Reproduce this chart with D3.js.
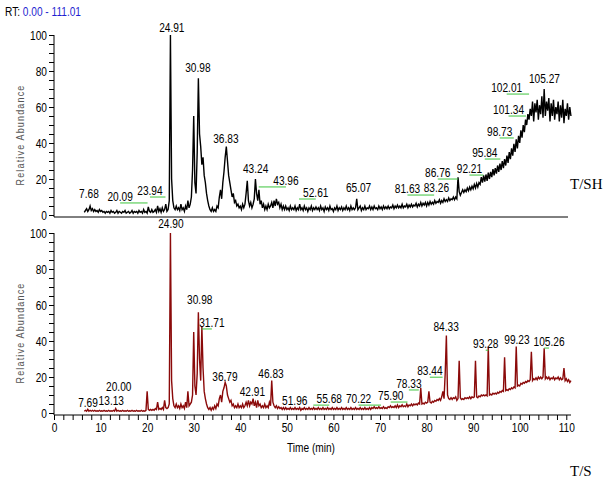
<!DOCTYPE html>
<html>
<head>
<meta charset="utf-8">
<script src="https://cdn.jsdelivr.net/npm/d3@7/dist/d3.min.js"></script>
<style>
  body { margin: 0; background: #fff; }
  svg { display: block; }
  text { font-family: "Liberation Sans", Arial, sans-serif; }
</style>
</head>
<body>
<script>
// sampling grid of the traces (min)
const rtStart = 6.5;
const rtStep = 0.25;

// T/SH trace, relative abundance
const shValues = [
  1.5,2.5,3.5,2.0,3.0,5.0,2.5,3.5,2.0,3.0,2.0,2.5,1.5,3.0,2.0,2.5,1.5,2.0,1.0,2.0,
  1.5,2.0,1.0,2.5,1.5,2.0,1.0,1.5,2.5,1.0,2.0,1.5,1.0,2.0,1.5,2.5,1.0,1.5,2.0,1.0,
  1.5,2.5,1.0,2.0,1.5,2.0,1.0,2.5,1.5,2.0,1.0,3.0,1.5,2.0,1.0,4.5,2.0,1.5,3.0,1.5,
  2,3,1.5,5,2,3.5,1.5,4,2,3,6,2,3,8,100,20,8,4,3,5,
  3,4,2.5,6,3,4,2,5,3,8,4,6,10,25,55,18,12,35,76,45,
  38,28,32,22,18,12,8,5,3,2,4,2,3,2,5,4,10,14,9,18,
  24,32,38,30,22,18,14,10,12,7,8,5,6,4,5,3,6,4,6,12,
  19,8,5,7,4,6,9,20,12,8,14,6,8,4,6,3,5,3,6,4,
  5,7,4,8,5,9,6,7,4,6,3,5,3,5,3,4,2.5,5,3,4,
  3,5,2.5,4,3,6,3,4,2.5,5,3,4,2,4,3,5,2.5,4,3,4.5,
  3,4,2.5,5,3,4,2,4.5,3,4,2.5,5,3,3.5,2,4,3,5,2.5,4,
  3,4.5,2.5,4,3,5,3,4,2.5,5,3,4,3,4,9,3,4,5,2.5,4,
  3,5,3,4,3.5,5,3,4.5,3,5,3.5,4,3,5,3.5,4.5,3,5,3.5,4.5,
  3.5,5,3.5,4.5,4,5.5,3.5,5,4,5.5,4,5,4,6,4,5,4.5,6,4,5.5,
  4.5,6,4.5,5.5,5,6.5,4.5,6,5,7,5,6.5,5.5,7,5,7,5.5,7.5,6,7,
  6,8,6.5,7.5,7,8.5,6.5,8,7,9,7.5,8.5,7.5,9.5,8,9,8.5,10,8.5,10,
  9,21,13,11,12.5,14,12.5,14,13,15,13.5,15.5,14,16,14.5,17,15,17.5,15.5,18,
  17,21,18,22,18.5,22.5,19,23.5,20,24,21,25.5,22,26,23,27.5,24,28.5,25,30,
  26,31,27.5,33,29,35,31,37,33,39.5,35,42,37,44,40,47,43,50,46,53,
  50,56,53,59,55,63,52,62,57,64,53,61,56,66,54,70,55,63,58,65,
  52,62,55,64,53,60,56,63,52,61,54,64,51,59,55,62,53,60,55
];

// T/S trace, relative abundance
const sValues = [
  1,1.5,1,2,1,1.5,1,1.5,1,1.5,1,1.2,1,1.5,1,1.2,1,1.5,1,1.2,
  1,1.5,1,1.2,1,1.5,1,2.5,1,1.5,1,1.2,1,1.5,1,1.2,1,1.5,1,1.2,
  1,1.5,1,1.2,1,1.5,1,1.2,1,1.5,1,1.2,1,1.5,12,2,1.5,2,1.5,2,
  1.5,2.5,2,6,2,2.5,2,3,2,7,3,2.5,3,5,100,18,8,4,3,5,
  3,4,2.5,5,3,4,2.5,6,3,12,4,5,6,10,45,15,10,22,56,30,
  18,48,25,12,8,5,3,2,3,1.5,3,2,4,2.5,5,4,8,10,6,12,
  14,17,15,10,8,6,7,4,5,3,4,3,5,3,4,3,5,3,4,6,
  4,7,4,6,5,8,4,6,3,7,4,5,3,4,3,5,3,4,3,6,
  4,18,6,4,3,4,2.5,3.5,2.5,3,2,3,2,3,2,2.5,2,3,2,2.5,
  2,3,2,2.5,2,3,1.5,2.5,2,3,2,2.5,2,3,2,2.5,2,3,2,2.5,
  2,3,2,2.5,2,3,2,2.5,2,3,2,2.5,2,3,2,2.5,2,3,2,2.5,
  2,3,2,2.5,2,3,2,2.5,2,3,2,2.5,2,3,2,2.5,2,3,2,2.5,
  2,3,2,2.5,2,3,2,3,2.5,3.5,2.5,3,2.5,3.5,2.5,3,2.5,3.5,2.5,3,
  2.5,3.5,3,4,3,3.5,3,4,3,4.5,3,4,3.5,4.5,3.5,4,3.5,5,3.5,4.5,
  4,5,4,5,4.5,5,4.5,5.5,5,14,5,5.5,5,6,5.5,6,12,6,5.5,6.5,
  6,7,6.5,7.5,7,8,7,9,12,8,22,43,10,8,7.5,8.5,7.5,8.5,8,9,
  7,8,29,8.5,7.5,8,7.5,8.5,8,8.5,8,9,8,9,8.5,9,29,9,8.5,9.5,
  9,10,9.5,10,9.5,10,9.5,37,10,10.5,10,11,10.5,11,10.5,11.5,11,12,11.5,12.5,
  12,31,12.5,13,12.5,13.5,13,14,13.5,14.5,14,37,15,15.5,15,16.5,16,17,16.5,17.5,
  17,18,17.5,18.5,34,18,19,18.5,19.5,18.5,20,19,20,19,20,36,19,20,19,20,
  18.5,19.5,19,20,18.5,19.5,19,20,18.5,19.5,18.5,19,25,18,19,17.5,18.5,17,18
];

// peak labels: [peak RT, label RT, label abundance, leader line]
const shLabels = [
  [7.68, 7.5, 9.4, 0], [20.09, 14.2, 7.8, 1], [23.94, 20.6, 11.1, 1],
  [24.91, 25.3, 101.5, 0], [30.98, 30.9, 79.4, 0], [36.83, 36.9, 40.0, 0],
  [43.24, 43.3, 23.3, 0], [43.96, 49.8, 16.7, 1], [52.61, 56.2, 10.0, 1],
  [65.07, 65.4, 12.8, 0], [81.63, 75.9, 12.2, 1], [83.26, 82.1, 12.8, 0],
  [86.76, 82.4, 21.1, 1], [92.21, 89.2, 23.3, 1], [95.84, 92.5, 32.2, 1],
  [98.73, 95.7, 43.9, 1], [101.34, 97.6, 56.1, 1], [102.01, 97.2, 68.3, 1],
  [105.27, 105.3, 73.3, 0]
];
const sLabels = [
  [7.69, 7.3, 3.3, 0], [13.13, 12.3, 4.5, 0], [20.00, 13.9, 12.2, 0],
  [24.90, 25.1, 102.8, 0], [30.98, 31.3, 60.5, 0], [31.71, 33.9, 47.8, 1],
  [36.79, 36.7, 17.8, 0], [42.91, 42.6, 9.4, 0], [46.83, 46.6, 19.4, 0],
  [51.96, 51.7, 4.5, 0], [55.68, 59.1, 5.5, 1], [70.22, 65.4, 5.5, 1],
  [75.90, 72.3, 7.2, 1], [78.33, 76.2, 13.9, 1], [83.44, 80.7, 21.0, 1],
  [84.33, 84.2, 45.5, 0], [93.28, 92.7, 36.0, 1], [99.23, 99.4, 38.3, 0],
  [105.26, 106.3, 37.2, 1]
];

const yTickLabels = [0, 20, 40, 60, 80, 100];
const xTickLabels = [0, 10, 20, 30, 40, 50, 60, 70, 80, 90, 100, 110];
const rtRange = [0.00, 111.01];

const width = 615;
const height = 481;
const narrow = 0.78; // condensed look of the instrument font

const svg = d3.select('body').append('svg')
  .attr('width', width)
  .attr('height', height);

const xScale = d3.scaleLinear().domain(rtRange).range([54, 571]);

const panels = [
  { values: shValues, labels: shLabels, color: '#000', top: 35, bottom: 215, name: 'T/SH', nameY: 189 },
  { values: sValues, labels: sLabels, color: '#8b0a0a', top: 233, bottom: 413, name: 'T/S', nameY: 476 }
];

// narrow text placed at x, y
function narrowText(parent, x, y, size, str) {
  return parent.append('text')
    .attr('transform', `translate(${x}, ${y}) scale(${narrow}, 1)`)
    .attr('font-size', size)
    .text(str);
}

// header
const header = svg.append('text')
  .attr('transform', `translate(5, 16) scale(${narrow}, 1)`)
  .attr('font-size', 13);
header.append('tspan').attr('fill', '#000').text('RT: ');
header.append('tspan').attr('fill', '#1f1fd0').text(`${rtRange[0].toFixed(2)} - ${rtRange[1].toFixed(2)}`);

panels.forEach((p) => {
  const yScale = d3.scaleLinear().domain([0, 100]).range([p.bottom, p.top]);
  const axisY = p.bottom + 2;

  // y axis
  const yAxis = d3.axisLeft(yScale)
    .tickValues(d3.range(0, 101, 5))
    .tickFormat((d) => (yTickLabels.includes(d) ? d : ''))
    .tickSize(5)
    .tickSizeOuter(0);

  const gy = svg.append('g')
    .attr('transform', `translate(${xScale(0)}, 0)`)
    .call(yAxis);
  gy.select('.domain').remove();
  gy.selectAll('text')
    .attr('font-size', 13)
    .attr('x', -9)
    .attr('fill', '#000')
    .attr('transform', `scale(${narrow}, 1)`);
  gy.append('line')
    .attr('x1', 0).attr('x2', 0)
    .attr('y1', p.top).attr('y2', axisY)
    .attr('stroke', '#000');

  svg.append('text')
    .attr('transform', `translate(24, ${(p.top + p.bottom) / 2 + 10}) rotate(-90) scale(0.9, 1)`)
    .attr('text-anchor', 'middle')
    .attr('font-size', 10)
    .attr('letter-spacing', 1.3)
    .attr('fill', '#555')
    .text('Relative Abundance');

  // trace
  const line = d3.line()
    .x((d, i) => xScale(rtStart + i * rtStep))
    .y((d) => yScale(d));

  svg.append('path')
    .datum(p.values)
    .attr('fill', 'none')
    .attr('stroke', p.color)
    .attr('stroke-width', 1.4)
    .attr('d', line);

  // leaders and labels
  const lab = svg.append('g');
  p.labels.filter((d) => d[3]).forEach((d) => {
    lab.append('line')
      .attr('x1', xScale(d[1])).attr('x2', xScale(d[0]))
      .attr('y1', yScale(d[2]) + 2).attr('y2', yScale(d[2]) + 2)
      .attr('stroke', '#3cc43c')
      .attr('stroke-width', 1);
  });
  p.labels.forEach((d) => {
    narrowText(lab, xScale(d[1]), yScale(d[2]), 13, d[0].toFixed(2))
      .attr('text-anchor', 'middle');
  });

  svg.append('text')
    .attr('x', 570).attr('y', p.nameY)
    .attr('font-size', 15)
    .style('font-family', '"Liberation Serif", "Times New Roman", serif')
    .text(p.name);
});

// top panel baseline
svg.append('line')
  .attr('x1', xScale(0)).attr('x2', 568)
  .attr('y1', 217).attr('y2', 217)
  .attr('stroke', '#000');

// bottom x axis
const xAxis = d3.axisBottom(xScale)
  .tickValues(d3.range(0, 111, 2))
  .tickFormat((d) => (xTickLabels.includes(d) ? d : ''))
  .tickSize(5)
  .tickSizeOuter(0);

const gx = svg.append('g')
  .attr('transform', 'translate(0, 415)')
  .call(xAxis);
gx.select('.domain').attr('d', `M${xScale(0)},0H${xScale(rtRange[1])}`);
gx.selectAll('text')
  .attr('font-size', 13)
  .attr('fill', '#000')
  .attr('transform', `scale(${narrow}, 1)`);

narrowText(svg, 311, 452, 13, 'Time (min)').attr('text-anchor', 'middle');
</script>
</body>
</html>
